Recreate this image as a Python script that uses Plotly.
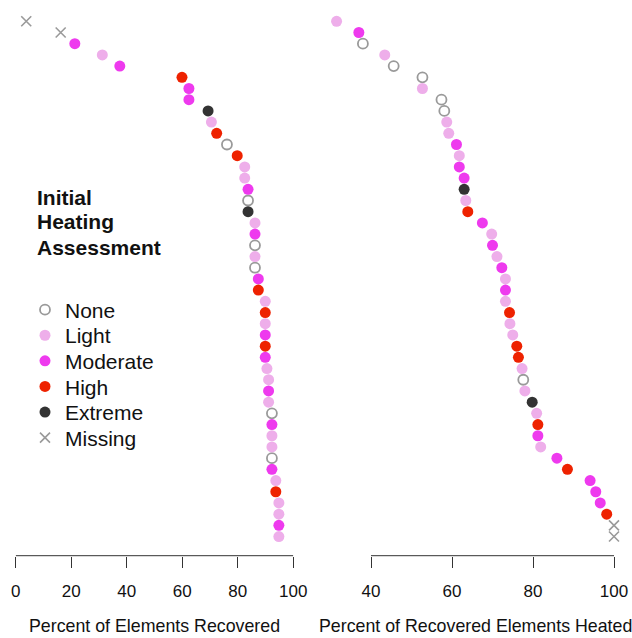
import plotly.graph_objects as go

categories = ["None", "Light", "Moderate", "High", "Extreme", "Missing"]

rows = list(range(1, 48))

left_values = [3.8, 16.2, 21.3, 31.2, 37.5, 59.9, 62.4, 62.4, 69.3, 70.5,
               72.4, 76.1, 79.8, 82.5, 82.5, 83.7, 83.7, 83.7, 86.2, 86.2,
               86.2, 86.2, 86.2, 87.4, 87.4, 89.9, 89.9, 89.9, 89.9, 89.9,
               89.9, 90.5, 91.1, 91.1, 91.1, 92.3, 92.3, 92.3, 92.3, 92.3,
               92.3, 93.7, 93.7, 94.8, 94.8, 94.8, 94.8]
left_cats = ["Missing", "Missing", "Moderate", "Light", "Moderate", "High", "Moderate", "Moderate",
             "Extreme", "Light", "High", "None", "High", "Light", "Light", "Moderate", "None",
             "Extreme", "Light", "Moderate", "None", "Light", "None", "Moderate", "High", "Light",
             "High", "Light", "Moderate", "High", "Moderate", "Light", "Light", "Moderate", "Light",
             "None", "Moderate", "Light", "Light", "None", "Moderate", "Light", "High", "Light",
             "Light", "Moderate", "Light"]

right_values = [31.5, 37.0, 38.0, 43.4, 45.6, 52.7, 52.7, 57.4, 58.1, 58.7,
                59.2, 61.1, 61.8, 61.8, 63.0, 63.0, 63.4, 63.9, 67.5, 69.8,
                70.0, 71.1, 72.3, 73.2, 73.2, 73.2, 74.2, 74.3, 75.0, 76.0,
                76.4, 77.3, 77.6, 78.0, 79.8, 80.9, 81.2, 81.2, 81.9, 85.9,
                88.5, 94.1, 95.5, 96.6, 98.2, 100.0, 100.0]
right_cats = ["Light", "Moderate", "None", "Light", "None", "None", "Light", "None", "None",
              "Light", "Light", "Moderate", "Light", "Moderate", "Moderate", "Extreme", "Light",
              "High", "Moderate", "Light", "Moderate", "Light", "Moderate", "Light", "Moderate",
              "Light", "High", "Light", "Light", "High", "High", "Light", "None", "Light",
              "Extreme", "Light", "High", "Moderate", "Light", "Moderate", "High", "Moderate",
              "Moderate", "Moderate", "High", "Missing", "Missing"]

left_ticks = [0, 20, 40, 60, 80, 100]
right_ticks = [40, 60, 80, 100]

left_title = "Percent of Elements Recovered"
right_title = "Percent of Recovered Elements Heated"
legend_title_lines = ["Initial", "Heating", "Assessment"]

styles = {
    "None": dict(symbol="circle-open", color="#9a9a9a", size=10, line=dict(width=1.8, color="#9a9a9a")),
    "Light": dict(symbol="circle", color="#EEAEEA", size=11, line=dict(width=0)),
    "Moderate": dict(symbol="circle", color="#EE3AEE", size=11, line=dict(width=0)),
    "High": dict(symbol="circle", color="#EE2200", size=11, line=dict(width=0)),
    "Extreme": dict(symbol="circle", color="#333333", size=11, line=dict(width=0)),
    "Missing": dict(symbol="x-thin-open", color="#9a9a9a", size=10, line=dict(width=1.6, color="#9a9a9a")),
}

W, H = 632, 638
legend_names = ["legend", "legend2", "legend3", "legend4", "legend5", "legend6"]

fig = go.Figure()

for panel, (vals, cats, xa) in enumerate([(left_values, left_cats, "x"), (right_values, right_cats, "x2")]):
    for i, c in enumerate(categories):
        xs = [v for v, k in zip(vals, cats) if k == c]
        ys = [r for r, k in zip(rows, cats) if k == c]
        fig.add_trace(go.Scatter(
            x=xs, y=ys, mode="markers", name=c, xaxis=xa, yaxis="y",
            marker=styles[c], cliponaxis=False,
            showlegend=(panel == 0), legend=legend_names[i], legendgroup=c,
            hoverinfo="skip"))

axis_common = dict(
    showline=False, automargin=False,
    ticks="outside", ticklen=11, tickcolor="#333333", tickwidth=1,
    showgrid=False, zeroline=False,
    tickfont=dict(size=17, color="#111111", family="Liberation Sans, Arial, sans-serif"),
    ticklabelstandoff=9, anchor="y",
)

y_bottom = (H - 555.7) / H

legend_layouts = {}
for i, name in enumerate(legend_names):
    yc = 310 + i * 25.6
    legend_layouts[name] = dict(
        x=25 / W, xanchor="left", y=1 - yc / H, yanchor="middle",
        font=dict(size=21, color="#111111"), bgcolor="rgba(0,0,0,0)",
        itemsizing="trace")

annotations = []
for j, line in enumerate(legend_title_lines):
    annotations.append(dict(
        text="<b>" + line + "</b>", x=35 / W, y=1 - (197 + 25 * j) / H,
        xref="paper", yref="paper", xanchor="left", yanchor="middle",
        showarrow=False, font=dict(size=21, color="#111111")))
annotations += [
    dict(text=left_title, x=154 / W, y=0, xref="paper", yref="paper",
         xanchor="center", yanchor="bottom", showarrow=False, font=dict(size=17.8, color="#111111")),
    dict(text=right_title, x=475 / W, y=0, xref="paper", yref="paper",
         xanchor="center", yanchor="bottom", showarrow=False, font=dict(size=17.8, color="#111111")),
]

fig.update_layout(
    width=W, height=H,
    margin=dict(l=0, r=0, t=0, b=0, autoexpand=False),
    paper_bgcolor="white", plot_bgcolor="white",
    font=dict(family="Liberation Sans, Arial, sans-serif", color="#111111"),
    xaxis=dict(domain=[15.7 / W, 293.3 / W], range=[0, 100], tickvals=left_ticks, **axis_common),
    xaxis2=dict(domain=[325 / W, 627 / W], range=[40 + (325 - 371) / 4.05, 40 + (627 - 371) / 4.05],
                tickvals=right_ticks, **axis_common),
    yaxis=dict(domain=[y_bottom, (H - 5) / H], range=[48.71, -0.455],
               visible=False, showgrid=False, zeroline=False, automargin=False),
    showlegend=True,
    shapes=[
        dict(type="line", xref="x", yref="paper", x0=left_ticks[0], x1=left_ticks[-1],
             y0=y_bottom, y1=y_bottom, line=dict(color="#333333", width=1)),
        dict(type="line", xref="x2", yref="paper", x0=right_ticks[0], x1=right_ticks[-1],
             y0=y_bottom, y1=y_bottom, line=dict(color="#333333", width=1)),
    ],
    annotations=annotations,
    **legend_layouts,
)

fig.write_html("out.html")
